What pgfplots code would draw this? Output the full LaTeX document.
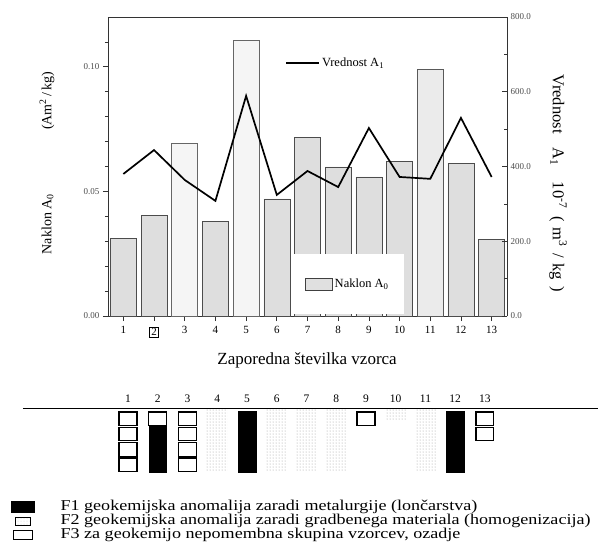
\documentclass[border=0pt]{standalone}
\usepackage{pgfplots}
\pgfplotsset{compat=1.18}
\usetikzlibrary{patterns}
\usepackage{fontspec}
\setmainfont{Liberation Serif}
\newfontfamily\legfont[FakeStretch=1.205]{Liberation Serif}
\setlength{\fboxsep}{1.5pt}
\setlength{\fboxrule}{0.6pt}
\begin{document}
\begin{tikzpicture}
\useasboundingbox (0,0) rectangle (598pt,542pt);
% ---------- bars, left axis ----------
\begin{axis}[
  at={(108pt,226pt)}, anchor=south west,
  scale only axis, width=399pt, height=299pt,
  xmin=0.5, xmax=13.5, ymin=0, ymax=0.12,
  axis y line*=left,
  xtick={1,...,13},
  xticklabels={1,\fbox{2},3,4,5,6,7,8,9,10,11,12,13},
  xtick pos=bottom,
  ytick={0,0.05,0.10}, yticklabels={0.00,0.05,0.10},
  minor ytick={0.01,0.02,0.03,0.04,0.06,0.07,0.08,0.09,0.11},
  tick align=outside,
  major tick length=5pt, minor tick length=3pt,
  axis line style={line width=0.8pt, black!80},
  tick style={line width=0.7pt, black!80},
  x tick label style={font=\fontsize{11}{12}\selectfont, yshift=-2pt},
  y tick label style={font=\fontsize{9}{10}\selectfont, text=black!70},
  xlabel={Zaporedna številka vzorca},
  every axis x label/.style={at={(axis description cs:0.499,-0.147)}, anchor=center, font=\fontsize{17}{19}\selectfont},
  ylabel={Naklon A\textsubscript{0}\hspace{64pt}(Am\textsuperscript{2}\,/\,kg)},
  every axis y label/.style={at={(axis description cs:-0.153,0.512)}, rotate=90, anchor=center, font=\fontsize{14}{16}\selectfont},
  legend style={at={(0.461,0.006)}, anchor=south west, draw=none, fill=white,
    inner xsep=13pt, inner ysep=23pt, font=\fontsize{12.5}{14}\selectfont},
]
\addplot[ybar, bar width=26pt, fill=black!13, draw=black!70, line width=0.6pt, forget plot]
  coordinates {(1,0.0313) (2,0.0405) (4,0.0381) (6,0.0470) (7,0.0718)
               (8,0.0598) (9,0.0558) (10,0.0622) (12,0.0614) (13,0.0309)};
\addplot[ybar, bar width=26pt, fill=black!4, draw=black!60, line width=0.6pt, forget plot]
  coordinates {(3,0.0694) (5,0.1107)};
\addplot[ybar, bar width=26pt, fill=black!8, draw=black!65, line width=0.6pt, forget plot]
  coordinates {(11,0.0991)};
\addlegendimage{legend image code/.code={\draw[fill=black!12, draw=black!75, line width=0.6pt] (0pt,-6pt) rectangle (27pt,6pt);}}
\addlegendentry{Naklon A\textsubscript{0}}
\end{axis}
% ---------- line, right axis ----------
\begin{axis}[
  at={(108pt,226pt)}, anchor=south west,
  scale only axis, width=399pt, height=299pt,
  xmin=0.5, xmax=13.5, ymin=0, ymax=800,
  axis y line*=right, axis x line=none,
  ytick={0,200,400,600,800}, yticklabels={0.0,200.0,400.0,600.0,800.0},
  minor ytick={100,300,500,700},
  tick align=inside,
  major tick length=5pt, minor tick length=3pt,
  axis line style={line width=0.8pt, black!80},
  tick style={line width=0.7pt, black!80},
  y tick label style={font=\fontsize{9}{10}\selectfont, text=black!70},
  ylabel={Vrednost\hspace{14pt}A\textsubscript{1}\hspace{16pt}10\textsuperscript{-7}\hspace{8pt}(\hspace{6pt}m\textsuperscript{3}\hspace{6pt}/\hspace{6pt}kg\hspace{6pt})},
  every axis y label/.style={at={(axis description cs:1.128,0.445)}, rotate=-90, anchor=center, font=\fontsize{16.5}{18}\selectfont},
  legend style={at={(0.444,0.846)}, anchor=west, draw=none, fill=none, inner sep=0pt,
    font=\fontsize{12.5}{14}\selectfont},
]
\addplot[black, line width=1.7pt, mark=none,
  legend image code/.code={\draw[black, line width=1.7pt] (0pt,0pt) -- (33pt,0pt);}]
  coordinates {(1,380) (2,444) (3,364) (4,308) (5,589) (6,324) (7,388)
               (8,345) (9,503) (10,372) (11,367) (12,530) (13,372)};
\addlegendentry{Vrednost A\textsubscript{1}}
\end{axis}
% ---------- schematic ----------
\begin{axis}[
  at={(23pt,134pt)}, anchor=north west,
  scale only axis, width=575pt, height=64.4pt,
  xmin=-2.53, xmax=16.8, ymin=-4.2, ymax=0,
  axis line style={draw=none},
  xtick={1,...,13}, xticklabels={1,2,3,4,5,6,7,8,9,10,11,12,13},
  xticklabel pos=upper,
  ytick=\empty, major tick length=0pt,
  x tick label style={font=\fontsize{11.5}{12}\selectfont, yshift=2pt},
  clip=false,
  legend style={at={(-0.0209,-0.427)}, anchor=north west, draw=none, fill=none, inner sep=0pt,
    font=\legfont\fontsize{15}{16}\selectfont, cells={anchor=west},
    nodes={inner xsep=3pt, inner ysep=0pt, text height=10pt, text depth=4pt}},
]
\addplot[black, line width=1pt, forget plot] coordinates {(-2.53,0) (16.8,0)};
\addplot[ybar, bar width=21pt, draw=none, pattern=dots, pattern color=black!40, forget plot]
  coordinates {(4,-4.15) (6,-4.15) (7,-4.15) (8,-4.15) (11,-4.15) (10,-0.8)};
\addplot[only marks, mark=square*, mark size=6.75pt,
  mark options={fill=white, draw=black, line width=1.1pt, xscale=1.33}, forget plot]
  coordinates {(1,-0.7) (1,-1.7) (1,-2.7) (1,-3.7) (2,-0.7) (3,-0.7) (3,-1.7) (3,-2.7) (3,-3.7)
               (9,-0.7) (13,-0.7) (13,-1.7)};
\addplot[only marks, mark=square*, mark size=7.7pt,
  mark options={fill=black, draw=none, xscale=1.15}, forget plot]
  coordinates {(2,-1.7) (2,-2.7) (2,-3.7) (5,-0.7) (5,-1.7) (5,-2.7) (5,-3.7)
               (12,-0.7) (12,-1.7) (12,-2.7) (12,-3.7)};
\addlegendimage{legend image code/.code={\fill[black] (0pt,-5.5pt) rectangle (23pt,5.5pt); \path (46pt,0pt);}}
\addlegendentry{F1 geokemijska anomalija zaradi metalurgije (lončarstva)}
\addlegendimage{legend image code/.code={\fill[pattern=dots, pattern color=black!20] (4pt,-4pt) rectangle (19pt,4pt); \path (46pt,0pt);}}
\addlegendentry{F2 geokemijska anomalija zaradi gradbenega materiala (homogenizacija)}
\addlegendimage{legend image code/.code={\draw[black, line width=1pt] (2pt,-4.5pt) rectangle (21pt,4.5pt); \path (46pt,0pt);}}
\addlegendentry{F3 za geokemijo nepomembna skupina vzorcev, ozadje}
\end{axis}
\end{tikzpicture}
\end{document}
